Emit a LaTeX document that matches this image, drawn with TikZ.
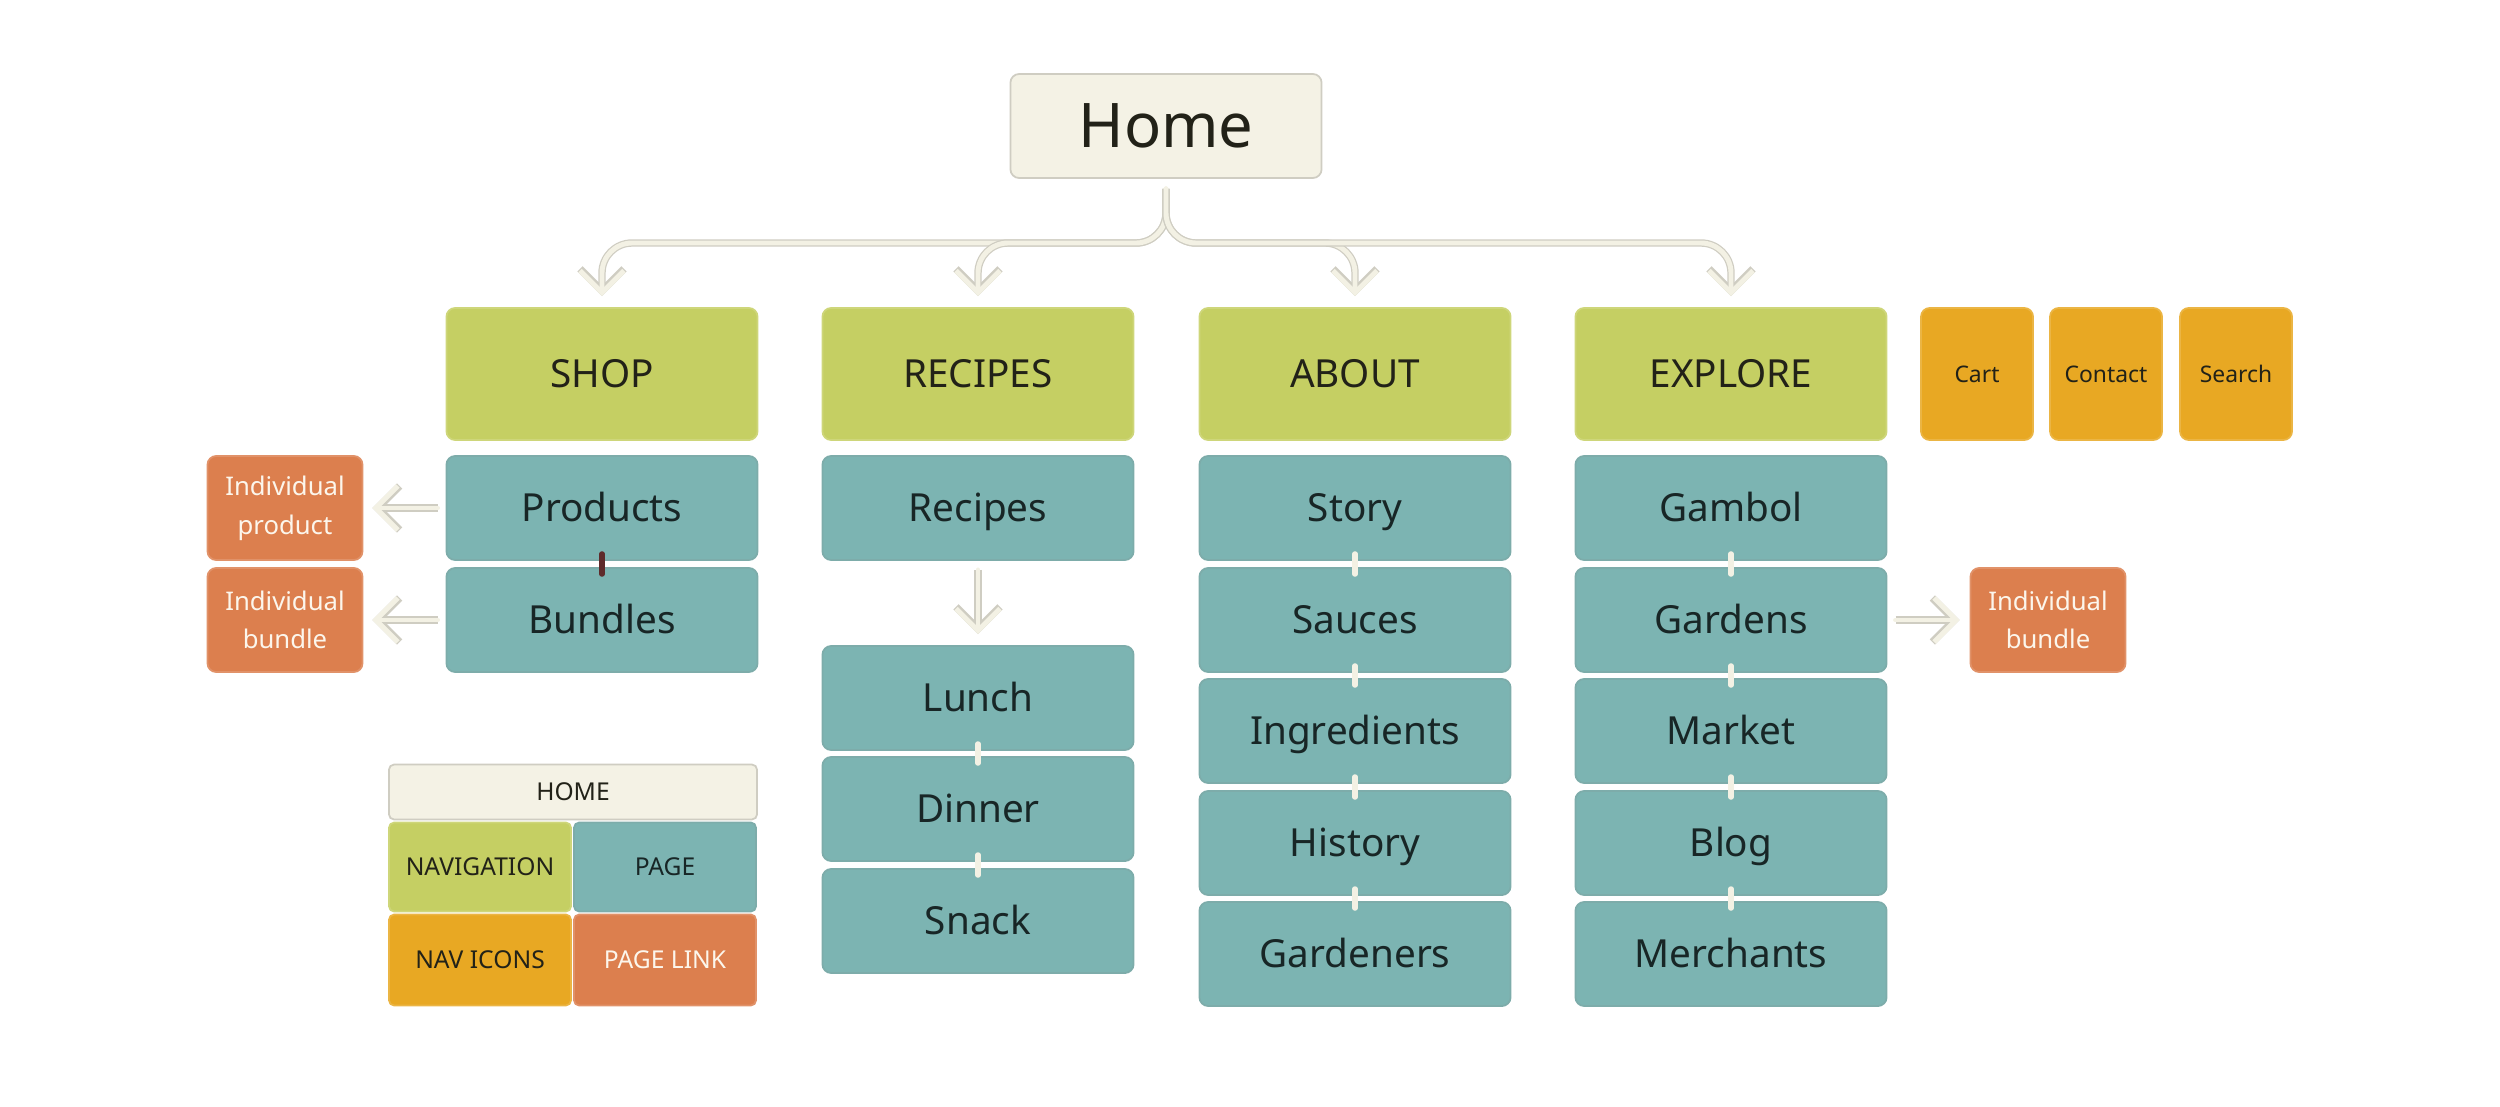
\documentclass[tikz,border=0pt]{standalone}
\usepackage{fontspec}
\setmainfont{Noto Sans}
\usetikzlibrary{arrows.meta}

\definecolor{homecol}{HTML}{F4F2E5}
\definecolor{navcol}{HTML}{C5CF63}
\definecolor{pagecol}{HTML}{7CB4B2}
\definecolor{iconcol}{HTML}{E8A823}
\definecolor{linkcol}{HTML}{DC7F4E}
\definecolor{cream}{HTML}{F3F1E4}
\definecolor{edgegray}{HTML}{CFCDC2}
\definecolor{textdark}{HTML}{222218}
\definecolor{textpage}{HTML}{182626}
\definecolor{textlight}{HTML}{FCF6EC}
\definecolor{tickdark}{HTML}{5E2B2B}

\tikzset{
  box/.style={rounded corners=2.5pt, inner sep=0pt, align=center, line width=0.5pt},
  homebox/.style={box, fill=homecol, draw=edgegray, minimum width=3.11cm, minimum height=1.04cm,
    text=textdark, font=\fontsize{17.5}{20}\selectfont, text height=15.6pt, text depth=3.1pt},
  navbox/.style={box, fill=navcol, draw=navcol!85!white, minimum width=3.11cm, minimum height=1.32cm,
    text=textdark, font=\fontsize{11}{13}\selectfont, text height=9.85pt, text depth=2pt},
  pagebox/.style={box, fill=pagecol, draw=pagecol!85!gray, minimum width=3.11cm, minimum height=1.04cm,
    text=textpage, font=\fontsize{11}{13}\selectfont, text height=9.85pt, text depth=2pt},
  linkbox/.style={box, fill=linkcol, draw=linkcol!85!white, minimum width=1.55cm, minimum height=1.04cm,
    text=textlight, font=\fontsize{7.3}{11}\selectfont},
  iconbox/.style={box, fill=iconcol, draw=iconcol!85!white, minimum width=1.12cm, minimum height=1.32cm,
    text=textdark, font=\fontsize{6.5}{8}\selectfont, text height=5.8pt, text depth=1.2pt},
  keybox/.style={box, rounded corners=1.5pt, minimum width=1.82cm, font=\fontsize{7}{9}\selectfont,
    text height=6.25pt, text depth=1.25pt},
  link/.style={draw=cream, line width=1.4pt, line cap=round,
    -{Straight Barb[length=2.2mm, width=4.4mm]},
    preaction={draw=edgegray, line width=2.1pt}},
  tick/.style={draw=cream, line width=1.5pt, line cap=round, shorten <=-2pt, shorten >=-2pt}
}

\begin{document}
\begin{tikzpicture}[x=0.01cm, y=-0.01cm]
\useasboundingbox (0,0) rectangle (2500,1106);

% top level
\node[homebox] (home) at (1166,126) {Home};
\node[navbox] (shop) at (602,374) {SHOP};
\node[navbox] (recipes) at (978,374) {RECIPES};
\node[navbox] (about) at (1355,374) {ABOUT};
\node[navbox] (explore) at (1731,374) {EXPLORE};
\node[iconbox] (cart) at (1977,374) {Cart};
\node[iconbox] (contact) at (2106,374) {Contact};
\node[iconbox] (search) at (2236,374) {Search};

% shop
\node[pagebox] (products) at (602,508) {Products};
\node[pagebox] (bundles) at (602,620) {Bundles};
\node[linkbox] (indproduct) at (285,508) {Individual\\product};
\node[linkbox] (indbundle) at (285,620) {Individual\\bundle};

% recipes
\node[pagebox] (recipelist) at (978,508) {Recipes};
\node[pagebox] (lunch) at (978,698) {Lunch};
\node[pagebox] (dinner) at (978,809) {Dinner};
\node[pagebox] (snack) at (978,921) {Snack};

% about
\node[pagebox] (story) at (1355,508) {Story};
\node[pagebox] (sauces) at (1355,620) {Sauces};
\node[pagebox] (ingredients) at (1355,731) {Ingredients};
\node[pagebox] (history) at (1355,843) {History};
\node[pagebox] (gardeners) at (1355,954) {Gardeners};

% explore
\node[pagebox] (gambol) at (1731,508) {Gambol};
\node[pagebox] (gardens) at (1731,620) {Gardens};
\node[pagebox] (market) at (1731,731) {Market};
\node[pagebox] (blog) at (1731,843) {Blog};
\node[pagebox] (merchants) at (1731,954) {Merchants};
\node[linkbox] (indbundleb) at (2048,620) {Individual\\bundle};

% key
\node[keybox, fill=homecol, draw=edgegray, minimum width=3.68cm, minimum height=0.55cm, text=textdark] (keyhome) at (573,792) {HOME};
\node[keybox, fill=navcol, draw=navcol!85!white, minimum height=0.89cm, text=textdark] (keynav) at (480,867) {NAVIGATION};
\node[keybox, fill=pagecol, draw=pagecol!85!gray, minimum height=0.89cm, text=textpage] (keypage) at (665,867) {PAGE};
\node[keybox, fill=iconcol, draw=iconcol!85!white, minimum height=0.91cm, text=textdark] (keyicons) at (480,960) {NAV ICONS};
\node[keybox, fill=linkcol, draw=linkcol!85!white, minimum height=0.91cm, text=textlight] (keylink) at (665,960) {PAGE LINK};

% home to sections
\coordinate (bar) at (1166,243);
\draw[link, rounded corners=0.3cm, shorten <=0.1cm, shorten >=0.11cm] (home.south) -- (bar) -- (bar -| shop.north) -- (shop.north);
\draw[link, rounded corners=0.3cm, shorten <=0.1cm, shorten >=0.11cm] (home.south) -- (bar) -- (bar -| recipes.north) -- (recipes.north);
\draw[link, rounded corners=0.3cm, shorten <=0.1cm, shorten >=0.11cm] (home.south) -- (bar) -- (bar -| about.north) -- (about.north);
\draw[link, rounded corners=0.3cm, shorten <=0.1cm, shorten >=0.11cm] (home.south) -- (bar) -- (bar -| explore.north) -- (explore.north);

% page links
\draw[link, shorten <=0.08cm, shorten >=0.09cm] (products.west) -- (indproduct.east);
\draw[link, shorten <=0.08cm, shorten >=0.09cm] (bundles.west) -- (indbundle.east);
\draw[link, shorten <=0.08cm, shorten >=0.1cm] (gardens.east) -- (indbundleb.west);
\draw[link, shorten <=0.09cm, shorten >=0.11cm] (recipelist.south) -- (lunch.north);

% ticks between pages
\draw[tick, draw=tickdark] (products.south) -- (bundles.north);
\draw[tick] (lunch.south) -- (dinner.north);
\draw[tick] (dinner.south) -- (snack.north);
\draw[tick] (story.south) -- (sauces.north);
\draw[tick] (sauces.south) -- (ingredients.north);
\draw[tick] (ingredients.south) -- (history.north);
\draw[tick] (history.south) -- (gardeners.north);
\draw[tick] (gambol.south) -- (gardens.north);
\draw[tick] (gardens.south) -- (market.north);
\draw[tick] (market.south) -- (blog.north);
\draw[tick] (blog.south) -- (merchants.north);
\end{tikzpicture}
\end{document}
